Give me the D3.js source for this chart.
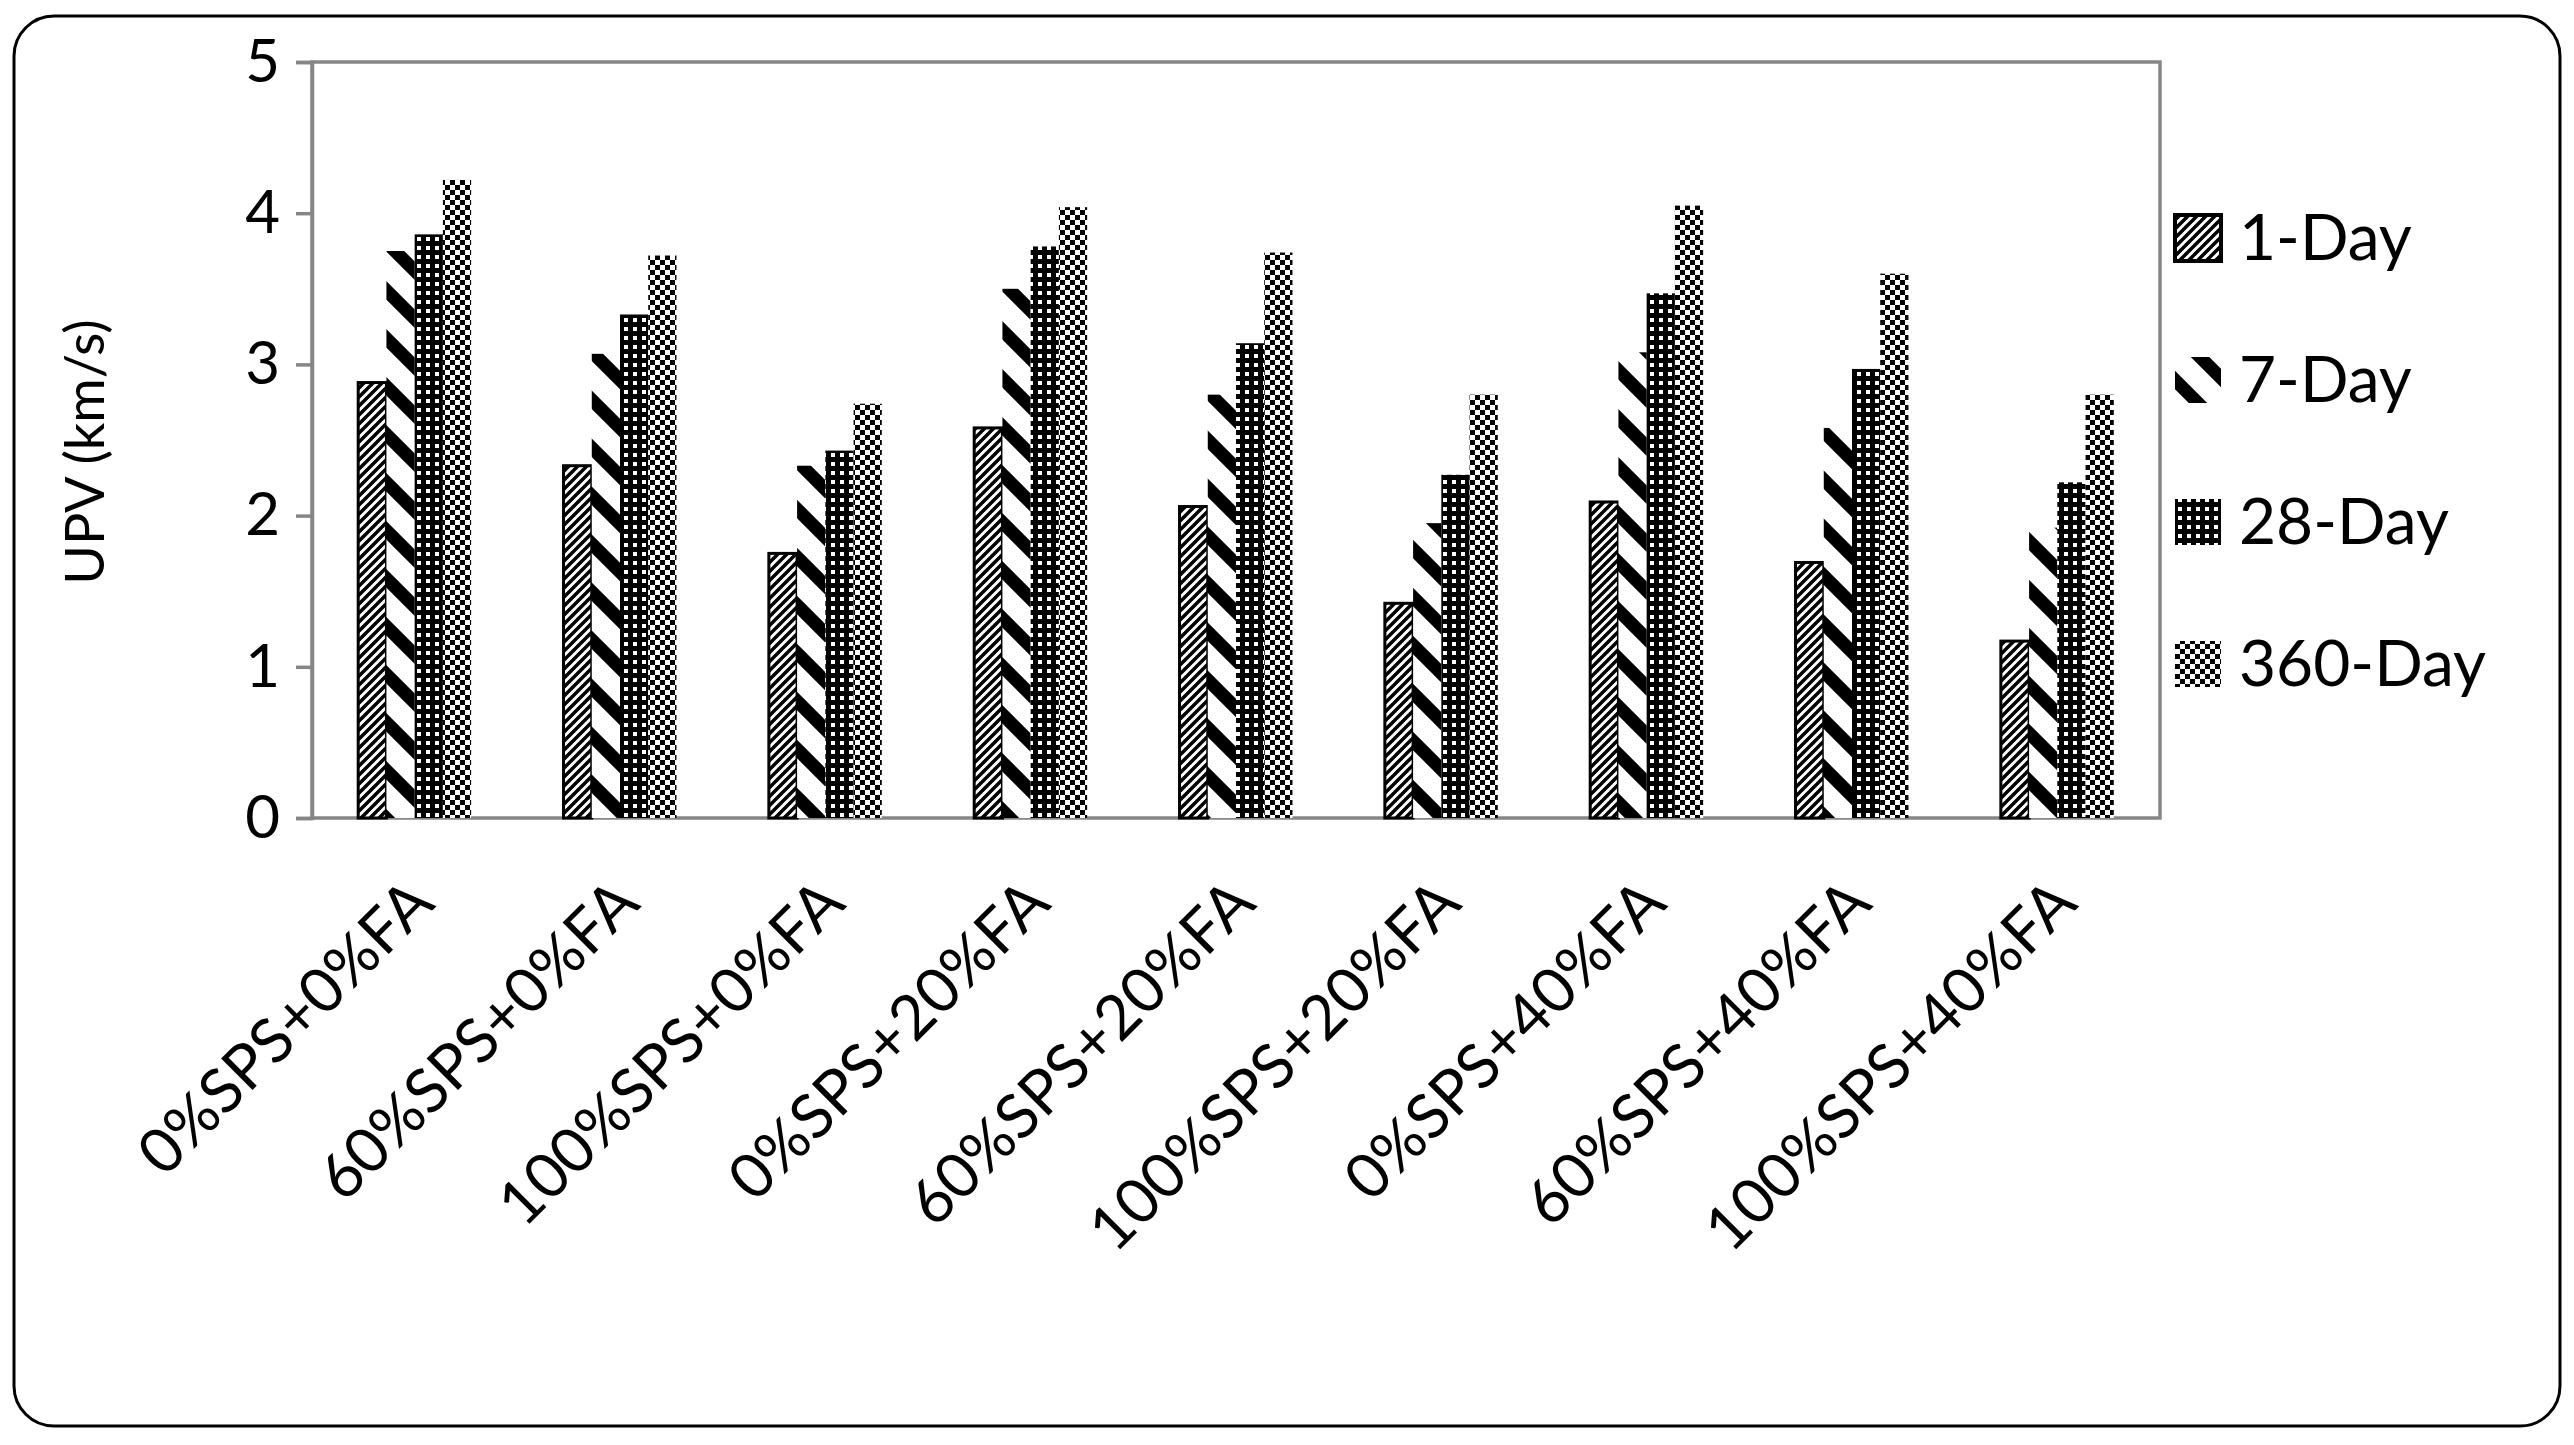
<!DOCTYPE html>
<html><head><meta charset="utf-8">
<script src="https://cdn.jsdelivr.net/npm/d3@7"></script>
<style>body{margin:0;background:#fff}svg{display:block}text{font-family:Lato,"Open Sans",sans-serif}</style>
</head><body><svg id="c" width="2574" height="1445"></svg>
<script>
const categories=["0%SPS+0%FA","60%SPS+0%FA","100%SPS+0%FA","0%SPS+20%FA","60%SPS+20%FA","100%SPS+20%FA","0%SPS+40%FA","60%SPS+40%FA","100%SPS+40%FA"];
const seriesNames=["1-Day","7-Day","28-Day","360-Day"];
const day1=[2.88,2.33,1.75,2.58,2.06,1.42,2.09,1.69,1.17];
const day7=[3.75,3.07,2.33,3.50,2.80,1.95,3.08,2.58,1.92];
const day28=[3.86,3.33,2.43,3.78,3.14,2.27,3.47,2.97,2.22];
const day360=[4.22,3.72,2.74,4.04,3.74,2.80,4.05,3.60,2.80];
const yTicks=[0,1,2,3,4,5];
const series=[day1,day7,day28,day360];

const svg=d3.select("#c");
const defs=svg.append("defs");
let p=defs.append("pattern").attr("id","p0").attr("patternUnits","userSpaceOnUse").attr("width",9).attr("height",9);
p.append("rect").attr("width",9).attr("height",9).attr("fill","#fff");
p.append("path").attr("d","M-1,10 L10,-1 M-1,1 L1,-1 M8,10 L10,8").attr("stroke","#000").attr("stroke-width",3.5);
p=defs.append("pattern").attr("id","p1").attr("patternUnits","userSpaceOnUse").attr("width",48).attr("height",48);
p.append("rect").attr("width",48).attr("height",48).attr("fill","#fff");
p.append("path").attr("d","M-6,-6 L54,54 M-6,42 L6,54 M42,-6 L54,6").attr("stroke","#000").attr("stroke-width",13);
p=defs.append("pattern").attr("id","p2").attr("patternUnits","userSpaceOnUse").attr("width",9).attr("height",9);
p.append("rect").attr("width",9).attr("height",9).attr("fill","#000");
p.append("rect").attr("x",3).attr("y",3).attr("width",4).attr("height",4).attr("fill","#fff");
p=defs.append("pattern").attr("id","p3").attr("patternUnits","userSpaceOnUse").attr("width",10).attr("height",10);
p.append("rect").attr("width",10).attr("height",10).attr("fill","#fff");
p.append("rect").attr("width",5).attr("height",5).attr("fill","#000");
p.append("rect").attr("x",5).attr("y",5).attr("width",5).attr("height",5).attr("fill","#000");

svg.append("rect").attr("x",14).attr("y",16).attr("width",2546).attr("height",1410).attr("rx",40).attr("fill","#fff").attr("stroke","#000").attr("stroke-width",3);

const L=312,R=2160,T=62,B=818;
const x=d3.scaleBand().domain(categories).range([L,R]).paddingInner(0.45).paddingOuter(0.225);
const xs=d3.scaleBand().domain(d3.range(4)).range([0,x.bandwidth()]);
const y=d3.scaleLinear().domain([0,5]).range([B,T]);

svg.append("rect").attr("x",L).attr("y",T).attr("width",R-L).attr("height",B-T).attr("fill","none").attr("stroke","#868686").attr("stroke-width",3.5);

series.forEach((vals,si)=>{
  svg.append("g").selectAll("rect").data(vals).join("rect")
    .attr("x",(d,i)=>x(categories[i])+xs(si)).attr("width",xs.bandwidth())
    .attr("y",d=>y(d)).attr("height",d=>B-y(d))
    .attr("fill",`url(#p${si})`)
    .attr("stroke",si===0?"#000":"none").attr("stroke-width",3);
});

const ya=svg.append("g").attr("transform",`translate(${L},0)`).call(d3.axisLeft(y).tickValues(yTicks).tickSize(16).tickPadding(16).tickFormat(d3.format("d")));
ya.select(".domain").attr("stroke","#868686").attr("stroke-width",3.5);
ya.selectAll(".tick line").attr("stroke","#868686").attr("stroke-width",3.5);
ya.selectAll("text").attr("font-size",60).attr("fill","#000").attr("font-family","Lato,sans-serif");

svg.append("g").selectAll("text").data(categories).join("text")
  .attr("transform",d=>`translate(${x(d)+x.bandwidth()/2+22},${B+88}) rotate(-45)`)
  .attr("text-anchor","end").attr("font-size",62).text(d=>d);

svg.append("text").attr("transform",`translate(104,${(T+B)/2+12}) rotate(-90)`).attr("text-anchor","middle").attr("font-size",54).text("UPV (km/s)");

const lg=svg.append("g").selectAll("g").data(seriesNames).join("g").attr("transform",(d,i)=>`translate(2175,${238+i*142})`);
lg.append("rect").attr("x",0).attr("y",-23).attr("width",46).attr("height",46).attr("fill",(d,i)=>`url(#p${i})`).attr("stroke",(d,i)=>i===0?"#000":"none").attr("stroke-width",4);
lg.append("text").attr("x",64).attr("y",22).attr("font-size",64).text(d=>d);
</script></body></html>
